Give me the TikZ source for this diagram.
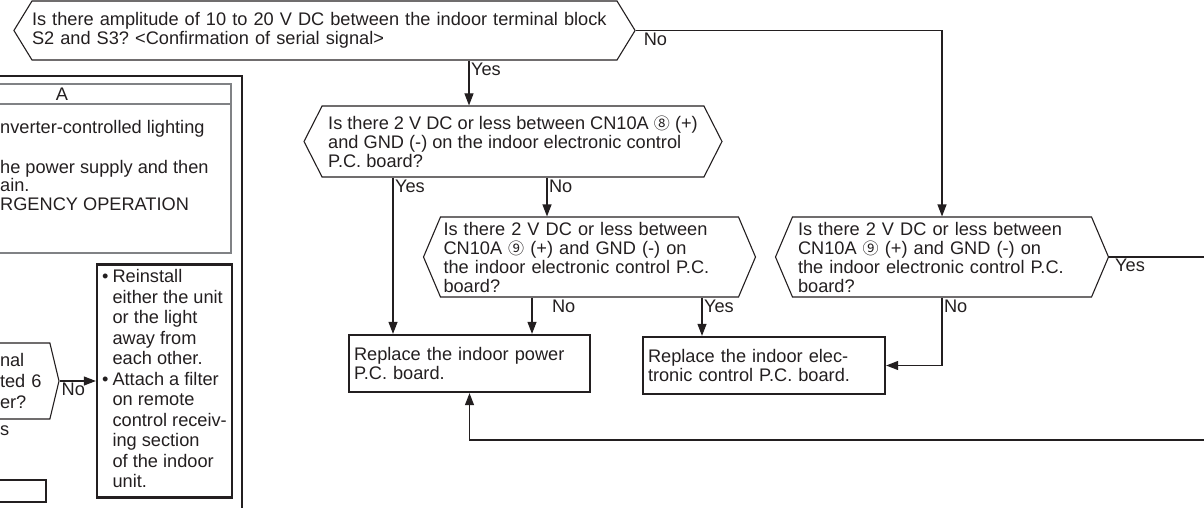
\documentclass[tikz,border=0pt]{standalone}
\usepackage{fontspec}
\setmainfont{Liberation Sans}
\newfontfamily\circfont[Scale=0.88]{Noto Sans CJK JP}
\usetikzlibrary{shapes.symbols,arrows.meta,positioning}
\definecolor{figLine}{HTML}{231F20}
\definecolor{figGray}{HTML}{808285}
\frenchspacing

\begin{document}
\begin{tikzpicture}[x=1pt,y=-1pt,
  font=\fontsize{18.2}{19}\selectfont,text=figLine,
  >={Triangle[length=12pt,width=9pt]},
  hexq/.style={signal,signal to=west and east,signal pointer angle=#1,
               draw=figLine,line width=1.1pt,align=left,inner sep=0pt},
  hexq/.default=130,
  box/.style={draw=figLine,line width=2.3pt,align=left,inner xsep=5pt},
  fl/.style={->,figLine,line width=1.1pt},
  ln/.style={figLine,line width=1.1pt},
  lbl/.style={inner sep=1.5pt}
]
\useasboundingbox (0,0) rectangle (1204,508);

% panel A (cut at the left edge)
\draw[figLine,line width=1.2pt] (-5,76) rectangle (242,520);
\draw[figGray,line width=1.2pt] (-5,84) rectangle (231,253);
\draw[figGray,line width=1.2pt] (-5,104) -- (231,104);
\node (pA) at (62,94) {A};
\node[anchor=base west,inner sep=0pt] (pA1) at (0,133) {nverter-controlled lighting};
\node[anchor=base west,inner sep=0pt] (pA2) at (0,173) {he power supply and then};
\node[anchor=base west,inner sep=0pt] (pA3) at (0,191.5) {ain.};
\node[anchor=base west,inner sep=0pt] (pA4) at (0,210) {RGENCY OPERATION};

\node[hexq=153,minimum width=70pt,minimum height=76pt,text width=48pt,
      font=\fontsize{18.2}{21}\selectfont] (rcv) at (24,381) {nal\\ted 6\\er?};
\node[anchor=base west,inner sep=0pt] (rcvy) at (0,435) {s};
\node[box,minimum width=135pt,minimum height=233pt,inner xsep=0pt] (fix) at (164.5,381)
  {\fontsize{18.2}{20.5}\selectfont
   \begin{tabular}{@{}l@{\hspace{4pt}}l@{}}
   \textbullet & Reinstall\\ & either the unit\\ & or the light\\ & away from\\ & each other.\\
   \textbullet & Attach a filter\\ & on remote\\ & control receiv-\\ & ing section\\
   & of the indoor\\ & unit.
   \end{tabular}};
\node[box,minimum width=60pt,minimum height=22pt] (rst) at (16,491) {};
\draw[fl] (rcv.east) -- node[lbl,below right,pos=0]{No} (fix.west);

% main flow
\node[hexq=117,minimum width=621pt,minimum height=59pt,text width=585pt] (sig) at (324.5,30.5)
  {Is there amplitude of 10 to 20 V DC between the indoor terminal block\\
   S2 and S3? <Confirmation of serial signal>};
\node[hexq=126,minimum width=418pt,minimum height=71pt] (cn8) at (513,141.5)
  {Is there 2 V DC or less between CN10A {\circfont ⑧} (+)\\
   and GND (-) on the indoor electronic control\\P.C. board?};
\node[hexq=134,minimum width=332pt,minimum height=80pt,text width=292pt] (cn9a) at (589.5,257)
  {Is there 2 V DC or less between\\CN10A {\circfont ⑨} (+) and GND (-) on\\
   the indoor electronic control P.C.\\board?};
\node[hexq=134,minimum width=333pt,minimum height=80pt,text width=288pt] (cn9b) at (942,257)
  {Is there 2 V DC or less between\\CN10A {\circfont ⑨} (+) and GND (-) on\\
   the indoor electronic control P.C.\\board?};
\node[box,minimum width=241pt,minimum height=57pt,text width=231pt] (pwr) at (469.5,363.5)
  {Replace the indoor power\\P.C. board.};
\node[box,minimum width=242pt,minimum height=57pt,text width=232pt] (ctl) at (764,365.5)
  {Replace the indoor elec-\\tronic control P.C. board.};

\coordinate (cx1) at (469,0);
\coordinate (cx2) at (393,0);
\coordinate (cx3) at (547,0);
\coordinate (cx4) at (532,0);
\coordinate (cx5) at (702,0);
\coordinate (outR) at (1212,257);
\coordinate (loopR) at (1212,440);

\draw[fl] (sig.south -| cx1) -- node[lbl,below right,pos=0]{Yes} (cn8.north -| cx1);
\draw[fl] (sig.east) -| node[lbl,below right,pos=0,xshift=6pt]{No} (cn9b.north);
\draw[fl] (cn8.south -| cx2) -- node[lbl,below right,pos=0]{Yes} (pwr.north -| cx2);
\draw[fl] (cn8.south -| cx3) -- node[lbl,below right,pos=0]{No} (cn9a.north -| cx3);
\draw[fl] (cn9a.south -| cx4) -- node[lbl,below right,pos=0,xshift=18pt]{No} (pwr.north -| cx4);
\draw[fl] (cn9a.south -| cx5) -- node[lbl,below right,pos=0]{Yes} (ctl.north -| cx5);
\draw[fl] (cn9b.south) |- node[lbl,below right,pos=0]{No} (ctl.east);
\draw[ln] (cn9b.east) -- node[lbl,below right,pos=0,xshift=4pt]{Yes} (outR);
\draw[fl] (loopR) -| (pwr.south);
\end{tikzpicture}
\end{document}
